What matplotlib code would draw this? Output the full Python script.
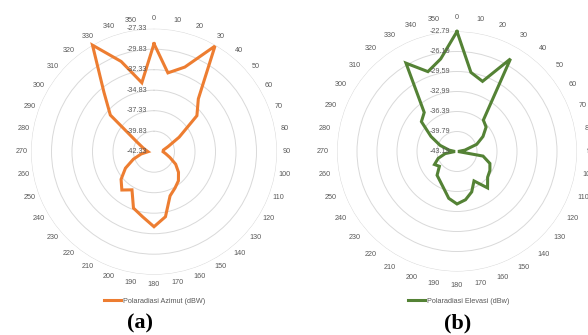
import numpy as np
import matplotlib
matplotlib.use("Agg")
import matplotlib.pyplot as plt
from matplotlib.transforms import offset_copy

# ---------------- data ----------------
angles_deg = list(range(0, 360, 10))
angle_labels = [str(a) for a in angles_deg]

azimut_ticks = [-42.33, -39.83, -37.33, -34.83, -32.33, -29.83, -27.33]
azimut_tick_labels = ["-42.33", "-39.83", "-37.33", "-34.83", "-32.33", "-29.83", "-27.33"]
azimut_values = [-29.16, -32.57, -31.35, -27.45, -33.92, -35.50, -38.79, -40.50, -41.17,
                 -41.23, -40.87, -40.26, -39.28, -38.43, -37.70, -37.21, -36.60, -34.28,
                 -33.18, -34.28, -35.01, -36.96, -36.23, -37.09, -38.31, -39.65, -40.74,
                 -41.60, -41.35, -40.87, -39.89, -35.38, -32.82, -27.33, -30.62, -33.79]

elevasi_ticks = [-43.19, -39.79, -36.39, -32.99, -29.59, -26.19, -22.79]
elevasi_tick_labels = ["-43.19", "-39.79", "-36.39", "-32.99", "-29.59", "-26.19", "-22.79"]
elevasi_values = [-22.79, -29.54, -30.50, -25.00, -36.22, -36.73, -38.09, -39.62, -41.83,
                  -43.02, -38.69, -37.24, -36.73, -36.39, -35.11, -37.41, -35.88, -34.86,
                  -34.27, -35.11, -36.56, -37.41, -37.92, -39.28, -38.77, -39.79, -41.15,
                  -42.85, -41.83, -40.13, -38.09, -35.29, -34.52, -25.85, -28.74, -27.21]

series_a_name = "Polaradiasi Azimut (dBW)"
series_b_name = "Polaradiasi Elevasi (dBw)"
captions = ["(a)", "(b)"]

# ---------------- style ----------------
FONT = "Liberation Sans"
TXT = "#595959"
GRID = "#d9d9d9"
SMALL = 5.2

W, H = 588, 335
fig = plt.figure(figsize=(W / 100, H / 100), dpi=100)


def make_panel(cx, cy, rad, ticks, tick_labels, values, color, name, pad, legend_x,
               caption, caption_x):
    ax = fig.add_axes([(cx - rad) / W, (H - cy - rad) / H, 2 * rad / W, 2 * rad / H],
                      projection="polar")
    ax.set_theta_zero_location("N")
    ax.set_theta_direction(-1)
    th = np.deg2rad(angles_deg + [angles_deg[0]])
    vals = list(values) + [values[0]]
    ax.plot(th, vals, color=color, lw=2.2, clip_on=False, label=name,
            solid_joinstyle="miter")
    ax.set_ylim(ticks[0], ticks[-1])
    ax.set_yticks(ticks)
    ax.set_yticklabels([])
    ax.set_xticks(np.deg2rad(angles_deg))
    ax.set_xticklabels(angle_labels, fontsize=SMALL, color=TXT, family=FONT)
    ax.tick_params(axis="x", pad=pad, length=0)
    ax.xaxis.grid(False)
    ax.yaxis.grid(True, color=GRID, lw=0.7)
    ax.spines["polar"].set_visible(False)
    ax.set_facecolor("none")
    tr = offset_copy(ax.transData, fig=fig, x=-7, y=0, units="dots")
    for t, lab in zip(ticks, tick_labels):
        ax.text(0, t, lab, transform=tr, ha="right", va="center",
                fontsize=SMALL, color=TXT, family=FONT)
    fig.legend(handles=ax.get_lines(), loc="center",
               bbox_to_anchor=(legend_x / W, (H - 301) / H),
               frameon=False, handlelength=2.4, handletextpad=0.3,
               prop={"family": FONT, "size": SMALL}, labelcolor=TXT)
    fig.text(caption_x / W, (H - 323) / H, caption, ha="center", va="center",
             fontsize=16, fontweight="bold", family="Liberation Serif", color="black")
    return ax


make_panel(154, 151.7, 123, azimut_ticks, azimut_tick_labels, azimut_values,
           "#ED7D31", series_a_name, 0, 154.5, captions[0], 140.5)
make_panel(457, 151.5, 120, elevasi_ticks, elevasi_tick_labels, elevasi_values,
           "#548235", series_b_name, 3, 458.5, captions[1], 458)

fig.savefig("out.png", dpi=100)
